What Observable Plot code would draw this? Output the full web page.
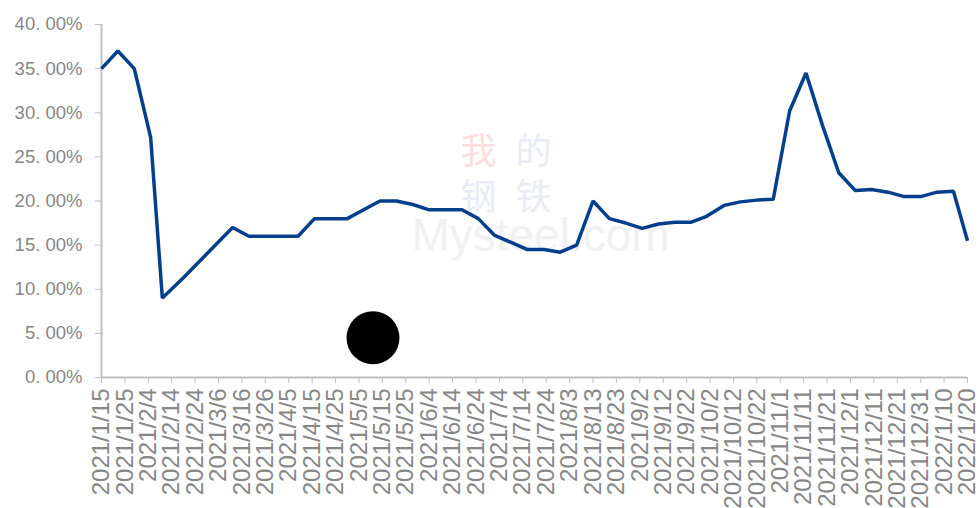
<!DOCTYPE html>
<html>
<head>
<meta charset="utf-8">
<script src="https://cdn.jsdelivr.net/npm/d3@7"></script>
<script src="https://cdn.jsdelivr.net/npm/@observablehq/plot@0.6"></script>
<style>
  html, body { margin: 0; padding: 0; background: #ffffff; }
  #chart svg { display: block; }
</style>
</head>
<body>
<div id="chart"></div>
<script>
// ---- data ----
const dates = [
  "2021-01-15","2021-01-22","2021-01-29","2021-02-05","2021-02-10","2021-02-19","2021-02-26",
  "2021-03-05","2021-03-12","2021-03-19","2021-03-26","2021-04-02","2021-04-09","2021-04-16",
  "2021-04-23","2021-04-30","2021-05-07","2021-05-14","2021-05-21","2021-05-28","2021-06-04",
  "2021-06-11","2021-06-18","2021-06-25","2021-07-02","2021-07-09","2021-07-16","2021-07-23",
  "2021-07-30","2021-08-06","2021-08-13","2021-08-20","2021-08-27","2021-09-03","2021-09-10",
  "2021-09-17","2021-09-24","2021-09-30","2021-10-08","2021-10-15","2021-10-22","2021-10-29",
  "2021-11-05","2021-11-12","2021-11-19","2021-11-26","2021-12-03","2021-12-10","2021-12-17",
  "2021-12-24","2021-12-31","2022-01-07","2022-01-14","2022-01-20"
];
const values = [
  35.0, 37.0, 35.0, 27.2, 9.0, 11.3, 13.2,
  15.1, 17.0, 16.0, 16.0, 16.0, 16.0, 18.0,
  18.0, 18.0, 19.0, 20.0, 20.0, 19.6, 19.0,
  19.0, 19.0, 18.0, 16.1, 15.3, 14.5, 14.5,
  14.2, 15.0, 20.0, 18.0, 17.5, 16.9, 17.4,
  17.6, 17.6, 18.2, 19.5, 19.9, 20.1, 20.2,
  30.2, 34.5, 28.6, 23.2, 21.2, 21.3, 21.0,
  20.5, 20.5, 21.0, 21.1, 15.5
];
const xTickLabels = [
  "2021/1/15","2021/1/25","2021/2/4","2021/2/14","2021/2/24","2021/3/6","2021/3/16","2021/3/26",
  "2021/4/5","2021/4/15","2021/4/25","2021/5/5","2021/5/15","2021/5/25","2021/6/4","2021/6/14",
  "2021/6/24","2021/7/4","2021/7/14","2021/7/24","2021/8/3","2021/8/13","2021/8/23","2021/9/2",
  "2021/9/12","2021/9/22","2021/10/2","2021/10/12","2021/10/22","2021/11/1","2021/11/11",
  "2021/11/21","2021/12/1","2021/12/11","2021/12/21","2021/12/31","2022/1/10","2022/1/20"
];
const yTicks = [0, 5, 10, 15, 20, 25, 30, 35, 40];
const markerDate = ["2021-05-11"];
const markerValue = [4.5];

// ---- build ----
const parseSlash = s => { const [y, m, d] = s.split("/").map(Number); return new Date(Date.UTC(y, m - 1, d)); };
const tickDates = xTickLabels.map(parseSlash);
const data = dates.map((d, i) => ({date: new Date(d + "T00:00:00Z"), value: values[i]}));
const marker = markerDate.map((d, i) => ({date: new Date(d + "T00:00:00Z"), value: markerValue[i]}));
const fmtDate = d => `${d.getUTCFullYear()}/${d.getUTCMonth() + 1}/${d.getUTCDate()}`;
const fmtPct = v => v.toFixed(2).replace(".", ". ") + "%";

const xDomain = [tickDates[0], tickDates[tickDates.length - 1]];
const axisColor = "#bfbfbf";
const textColor = "#878787";
const cjk = "'Noto Sans CJK SC', sans-serif";

const chart = Plot.plot({
  width: 979,
  height: 508,
  marginLeft: 101,
  marginRight: 12,
  marginTop: 24,
  marginBottom: 131,
  style: {fontFamily: "'Liberation Sans', Arial, sans-serif", fontSize: "18.5px", color: textColor, background: "#ffffff"},
  x: {type: "utc", domain: xDomain, label: null},
  y: {domain: [0, 40], label: null},
  marks: [
    // watermark
    Plot.text(["Mysteel.com"], {frameAnchor: "middle", dx: 6, dy: 35, fontSize: 46, fill: "#f1f1f1", fontFamily: "'Liberation Sans', Arial, sans-serif"}),
    Plot.text(["我"], {frameAnchor: "middle", dx: -56, dy: -49, fontSize: 36, fill: "#fbdede", fontFamily: cjk}),
    Plot.text(["的"], {frameAnchor: "middle", dx: -1, dy: -49, fontSize: 36, fill: "#e9ecf4", fontFamily: cjk}),
    Plot.text(["钢"], {frameAnchor: "middle", dx: -56, dy: -3, fontSize: 36, fill: "#e9ecf4", fontFamily: cjk}),
    Plot.text(["铁"], {frameAnchor: "middle", dx: -1, dy: -3, fontSize: 36, fill: "#e9ecf4", fontFamily: cjk}),
    // axes
    Plot.axisY({ticks: yTicks, tickFormat: fmtPct, tickSize: 6, tickPadding: 13, stroke: axisColor, fill: textColor, fontSize: 18.5, label: null}),
    Plot.axisX({ticks: tickDates, tickFormat: fmtDate, tickSize: 6, tickPadding: 5, tickRotate: -90, stroke: axisColor, fill: textColor, fontSize: 24, label: null}),
    Plot.ruleY([0], {stroke: axisColor, strokeWidth: 2}),
    Plot.ruleX([xDomain[0]], {stroke: axisColor, strokeWidth: 2}),
    // series
    Plot.line(data, {x: "date", y: "value", stroke: "#033f8c", strokeWidth: 3.5, strokeLinejoin: "miter", strokeLinecap: "butt"}),
    Plot.dot(marker, {x: "date", y: "value", r: 26.5, fill: "#000000", stroke: "none"})
  ]
});
document.getElementById("chart").appendChild(chart);
</script>
</body>
</html>
